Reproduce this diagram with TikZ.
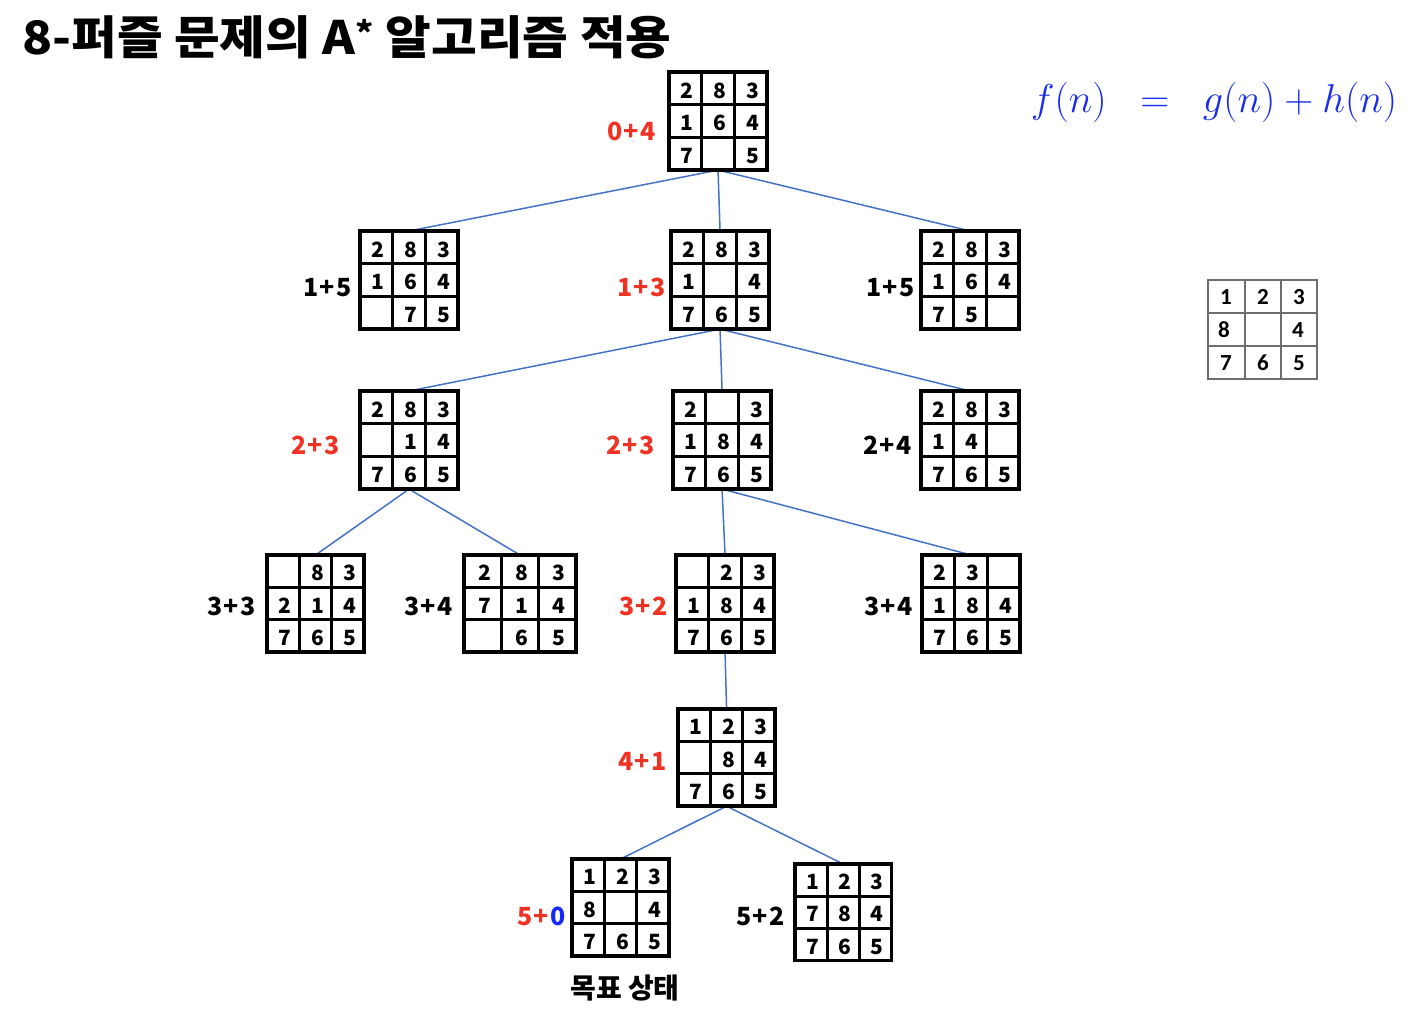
\documentclass[tikz,border=0pt]{standalone}
\usepackage{fontspec}
\setmainfont{Noto Sans CJK KR}
\newfontfamily\goalfont{Carlito}
\usetikzlibrary{calc,backgrounds}
\definecolor{lblred}{RGB}{238,50,36}
\definecolor{edgeblue}{RGB}{68,114,196}
\definecolor{fblue}{RGB}{25,45,235}
\definecolor{zblue}{RGB}{20,40,250}
\definecolor{goalgray}{RGB}{110,110,110}
\tikzset{
  puzframe/.style={draw=black, line width=3.5pt, inner sep=0pt, outer sep=0pt, anchor=north west},
  gridline/.style={black, line width=3pt},
  digit/.style={font=\fontsize{21}{21}\selectfont\bfseries, inner sep=0pt, text height=15.5pt, text depth=0pt},
  flabel/.style={font=\fontsize{25}{25}\selectfont\bfseries, inner sep=0pt, text height=18.5pt, text depth=0pt, anchor=east},
  tedge/.style={edgeblue, line width=1.5pt},
  goalframe/.style={draw=goalgray, line width=1.5pt, inner sep=0pt, outer sep=0pt, anchor=north west},
  goalline/.style={goalgray, line width=1.5pt},
  goaldigit/.style={font=\goalfont\fontsize{23}{23}\selectfont\bfseries, inner sep=0pt, text height=15pt, text depth=0pt},
}
\newcommand\pl{\kern1.5pt+\kern1.5pt}
% #1 name, #2 left, #3 top, #4 cell width, #5 cell height, #6 entries
\newcommand\puz[6]{%
  \node[puzframe, minimum width={3*#4pt}, minimum height={3*#5pt}] (#1) at (#2,#3) {};
  \begin{scope}[shift={(#2,#3)}]
    \draw[gridline] (#4,0) -- (#4,3*#5) (2*#4,0) -- (2*#4,3*#5)
                    (0,#5) -- (3*#4,#5) (0,2*#5) -- (3*#4,2*#5);
    \foreach \v [count=\k from 0] in {#6} {
      \pgfmathtruncatemacro\rr{div(\k,3)}
      \pgfmathtruncatemacro\cc{mod(\k,3)}
      \node[digit] at ({(\cc+0.5)*#4+2},{(\rr+0.5)*#5+2}) {\v};
    }
  \end{scope}
}
\begin{document}
\begin{tikzpicture}[x=1pt,y=-1pt]
\useasboundingbox (0,0) rectangle (1408,1012);

% title
\node[anchor=west, inner sep=0pt, font=\fontsize{46}{46}\selectfont\bfseries] (title) at (22,37)
  {\scalebox{1.08}[1]{8-퍼즐 문제의 A\textsuperscript{*} 알고리즘 적용}};

% formula
\node[anchor=center, inner sep=0pt, text=fblue, font=\fontsize{24}{24}\selectfont] (formula) at (1214,102)
  {\scalebox{1.62}{$f(n)\;\;=\;\;g(n)+h(n)$}};

% goal reference
\node[goalframe, minimum width=109pt, minimum height=99pt] (goal) at (1208,280) {};
\begin{scope}[shift={(1208,280)}]
  \draw[goalline] (37,0) -- (37,99) (73,0) -- (73,99) (0,33) -- (109,33) (0,66) -- (109,66);
  \foreach \v/\x/\y in {1/18/16.5, 2/55/16.5, 3/91/16.5, 8/16/49.5, 4/90/49.5, 7/18/82.5, 6/55/82.5, 5/91/82.5}
    \node[goaldigit] at (\x,\y) {\v};
\end{scope}

% puzzles
\puz{root}{669}{72}{32.7}{32.7}{2,8,3,1,6,4,7,{},5}
\puz{la}{360}{231}{32.7}{32.7}{2,8,3,1,6,4,{},7,5}
\puz{lb}{671}{231}{32.7}{32.7}{2,8,3,1,{},4,7,6,5}
\puz{lc}{921}{231}{32.7}{32.7}{2,8,3,1,6,4,7,5,{}}
\puz{ma}{360}{391}{32.7}{32.7}{2,8,3,{},1,4,7,6,5}
\puz{mb}{673}{391}{32.7}{32.7}{2,{},3,1,8,4,7,6,5}
\puz{mc}{921}{391}{32.7}{32.7}{2,8,3,1,4,{},7,6,5}
\puz{na}{267}{555}{32.4}{32.4}{{},8,3,2,1,4,7,6,5}
\puz{nb}{464}{555}{37.3}{32.4}{2,8,3,7,1,4,{},6,5}
\puz{nc}{676}{555}{32.7}{32.4}{{},2,3,1,8,4,7,6,5}
\puz{nd}{922}{555}{32.7}{32.4}{2,3,{},1,8,4,7,6,5}
\puz{oa}{678}{709}{32.4}{32.4}{1,2,3,{},8,4,7,6,5}
\puz{pa}{572}{859}{32.4}{32.4}{1,2,3,8,{},4,7,6,5}
\puz{pb}{795}{864}{32.1}{32.1}{1,2,3,7,8,4,7,6,5}

% labels
\node[flabel, text=lblred] (f-root) at (656,131) {0\pl 4};
\node[flabel] (f-la) at (352,287) {1\pl 5};
\node[flabel, text=lblred] (f-lb) at (666,287) {1\pl 3};
\node[flabel] (f-lc) at (915,287) {1\pl 5};
\node[flabel, text=lblred] (f-ma) at (340,445) {2\pl 3};
\node[flabel, text=lblred] (f-mb) at (655,445) {2\pl 3};
\node[flabel] (f-mc) at (912,445) {2\pl 4};
\node[flabel] (f-na) at (256,606) {3\pl 3};
\node[flabel] (f-nb) at (453,606) {3\pl 4};
\node[flabel, text=lblred] (f-nc) at (668,606) {3\pl 2};
\node[flabel] (f-nd) at (913,606) {3\pl 4};
\node[flabel, text=lblred] (f-oa) at (667,761) {4\pl 1};
\node[flabel] (f-pa) at (566,916) {\textcolor{lblred}{5\pl}\textcolor{zblue}{0}};
\node[flabel] (f-pb) at (785,916) {5\pl 2};

\node[inner sep=0pt, font=\fontsize{28}{28}\selectfont\bfseries] (goaltext) at (625,988) {목표 상태};

% edges
\begin{pgfonlayer}{background}
\draw[tedge] (root.south) -- (la.north);
\draw[tedge] (root.south) -- (lb.north);
\draw[tedge] (root.south) -- (lc.north);
\draw[tedge] (lb.south) -- (ma.north);
\draw[tedge] (lb.south) -- (mb.north);
\draw[tedge] (lb.south) -- (mc.north);
\draw[tedge] (ma.south) -- (na.north);
\draw[tedge] (ma.south) -- (nb.north);
\draw[tedge] (mb.south) -- (nc.north);
\draw[tedge] (mb.south) -- (nd.north);
\draw[tedge] (nc.south) -- (oa.north);
\draw[tedge] (oa.south) -- (pa.north);
\draw[tedge] (oa.south) -- (pb.north);
\end{pgfonlayer}
\end{tikzpicture}
\end{document}
